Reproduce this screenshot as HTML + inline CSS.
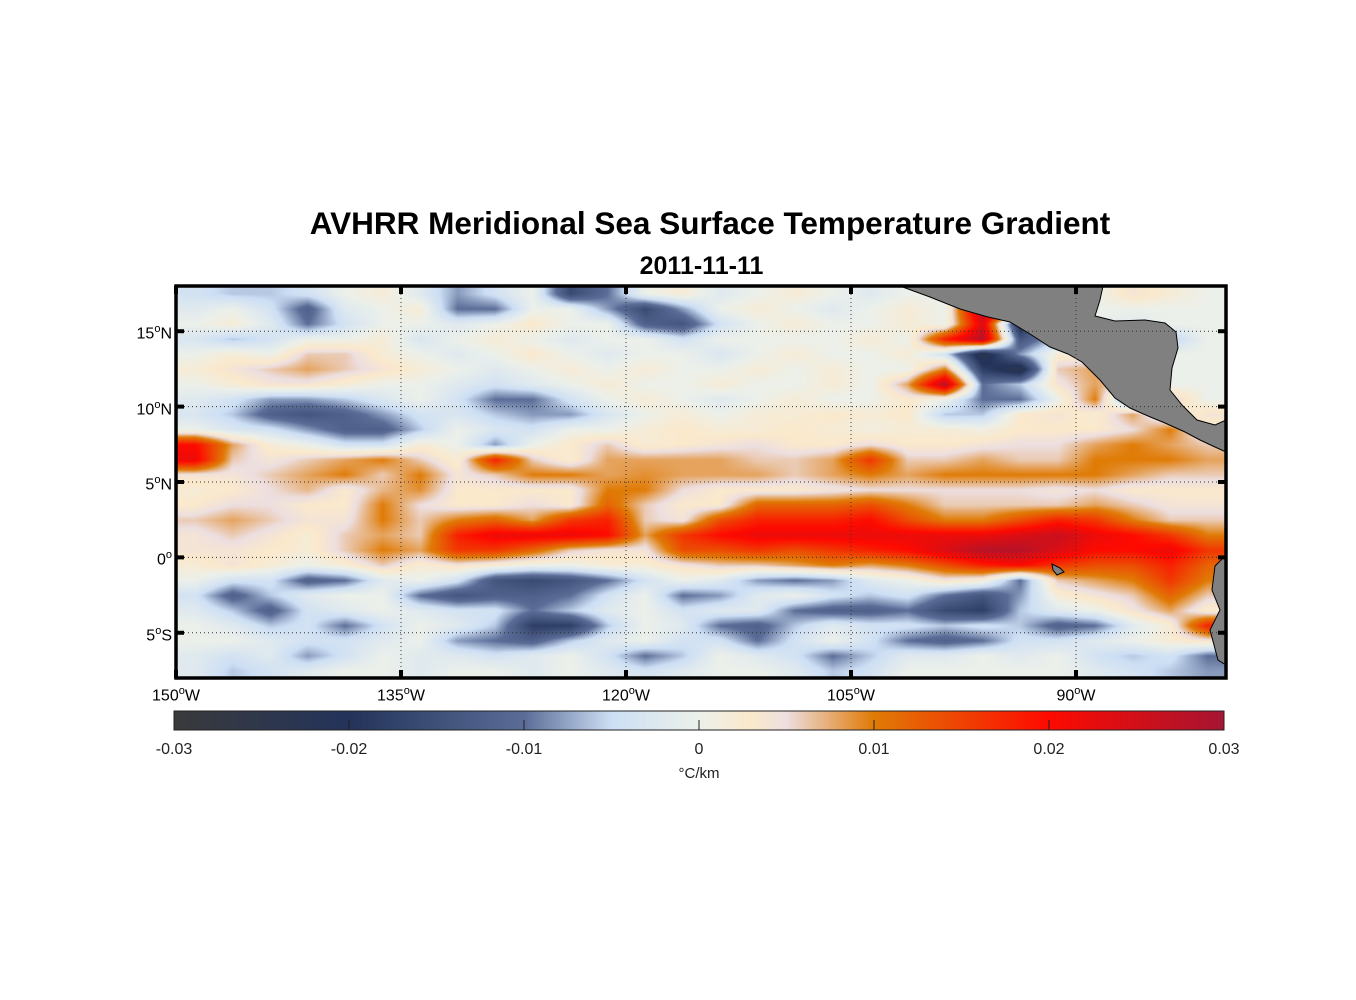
<!DOCTYPE html>
<html><head><meta charset="utf-8"><style>
body{margin:0;background:#fff;width:1356px;height:1000px;overflow:hidden;font-family:"Liberation Sans",Arial,sans-serif;}
#wrap{position:relative;width:1356px;height:1000px;}
.t{position:absolute;white-space:nowrap;color:#000;}
canvas{position:absolute;}
svg{position:absolute;left:0;top:0;}
</style></head><body><div id="wrap">
<div class="t" style="left:0;width:1420px;text-align:center;top:205px;font-size:31.5px;font-weight:bold;">AVHRR Meridional Sea Surface Temperature Gradient</div>
<div class="t" style="left:0;width:1403px;text-align:center;top:252px;font-size:25px;font-weight:bold;">2011-11-11</div>
<canvas id="map" width="1050" height="392" style="left:176px;top:286px"></canvas>
<canvas id="cbar" width="1050" height="19" style="left:174px;top:711px"></canvas>
<svg id="ov" width="1356" height="1000"></svg>
<div id="labels"></div>
</div>
<script>
const lonEdges=[-150,-80];
const latEdges=[18,-8];
const cbarTicks=[-0.03,-0.02,-0.01,0,0.01,0.02,0.03];
const cbarLabels=["-0.03","-0.02","-0.01","0","0.01","0.02","0.03"];
const lonTicks=[-150,-135,-120,-105,-90];
const lonLabels=["150","135","120","105","90"];
const latTicks=[15,10,5,0,-5];
const latLabels=["15","10","5","0","5"];
const latSuffix=["N","N","N","",'S'];
// gradient values (x0.001 °C/km), rows 17.5N..7.5S, cols 150W..80W step 2.5
const r0=[-4,-6,-6,-4,0,2,-2,-8,-4,0,-16,-10,0,2,-2,0,2,0,-2,0,0,0,0,0,0,4,2,0];
const r1=[-2,0,-4,-12,-2,0,2,-10,-10,0,0,-8,-16,-8,0,2,0,-2,0,2,0,28,24,0,0,0,0,0];
const r2=[0,2,-2,-10,-4,0,0,-2,0,3,0,0,-12,-14,-4,0,2,0,0,2,0,24,-22,0,0,-2,0,0];
const r3=[-3,-6,-4,0,0,2,-3,0,2,0,-2,0,0,-4,0,0,0,0,2,0,18,28,-14,-6,0,0,-6,0];
const r4=[0,2,0,6,6,2,0,-2,0,3,0,-2,0,0,-3,0,2,0,0,2,-4,-24,-8,2,2,0,0,0];
const r5=[2,4,6,8,6,4,2,0,-2,0,2,0,2,0,0,2,0,2,0,0,10,-18,-24,6,8,0,0,0];
const r6=[0,2,4,4,2,0,0,-2,-4,-2,0,2,0,0,2,0,0,2,0,8,28,-10,-6,4,8,4,0,0];
const r7=[-2,-4,-8,-8,-6,-3,0,-4,-10,-10,-4,0,2,0,-2,0,2,0,0,3,0,-10,-10,0,10,-12,6,0];
const r8=[-3,-6,-12,-14,-12,-8,-4,-3,-6,-8,-8,-3,0,2,0,2,2,3,2,3,-6,-6,3,4,2,8,0,4];
const r9=[0,-3,-4,-8,-12,-12,-6,0,-3,-4,0,0,2,3,2,2,3,2,1,2,2,1,3,3,3,5,10,2];
const r10=[20,8,2,0,-4,-4,2,0,-8,0,3,6,2,3,4,5,3,3,5,3,3,4,5,5,8,10,8,6];
const r11=[22,6,4,6,8,10,6,2,18,6,2,8,8,8,8,6,6,8,16,6,6,8,6,6,10,10,10,8];
const r12=[4,4,6,8,10,6,10,4,6,10,10,8,9,8,8,8,6,8,10,8,10,10,10,10,10,8,6,6];
const r13=[2,3,5,7,3,7,9,3,3,3,3,10,10,5,3,3,3,4,5,5,5,5,5,4,5,3,3,3];
const r14=[3,5,5,3,3,10,5,3,3,5,3,12,6,3,3,12,12,12,14,10,6,6,6,6,8,6,4,4];
const r15=[6,8,6,4,4,10,6,10,12,8,16,18,6,4,14,18,18,18,20,14,10,10,14,18,16,10,6,6];
const r16=[4,6,4,2,6,8,6,18,22,22,22,20,8,16,20,22,22,22,22,22,22,22,24,26,22,20,16,10];
const r17=[4,4,3,2,6,10,8,16,16,12,6,4,4,14,14,16,14,16,18,20,24,28,28,24,20,20,22,16];
const r18=[2,4,2,0,2,6,2,4,2,0,0,2,2,4,6,6,8,10,8,10,14,18,20,16,14,14,18,12];
const r19=[0,-4,-4,-12,-10,-2,0,-4,-14,-16,-14,-10,-4,0,-2,-8,-10,-8,-2,0,4,2,-10,6,8,10,16,10];
const r20=[-4,-12,-6,-2,0,0,-10,-14,-12,-12,-10,-4,0,-10,-8,-2,0,-4,-6,-4,-10,-14,-8,2,4,6,12,6];
const r21=[-2,-6,-12,-4,-2,0,-2,-4,-4,-10,-6,-2,0,-4,-2,-2,-10,-12,-12,-10,-16,-18,-6,-2,0,4,8,2];
const r22=[0,-2,-6,-4,-10,-4,0,-2,-6,-18,-18,-6,0,-2,-10,-12,-6,-2,-4,-4,-6,-4,-6,-12,-10,-2,2,18];
const r23=[0,0,-2,-4,-4,-2,0,-8,-10,-12,-6,-2,0,-4,-4,-10,-4,0,-4,-10,-12,-10,-4,-4,-2,0,2,4];
const r24=[-2,-4,-2,-8,-4,0,-2,-2,-4,-2,0,-4,-10,-6,0,-2,-4,-10,-6,-2,-2,0,-2,0,-4,-6,-4,-10];
const r25=[-2,-6,-4,-2,0,0,-2,0,0,-2,0,-2,-4,-2,0,0,-2,-6,-4,0,0,0,0,0,-2,-4,-6,-8];
const grid=[r0,r1,r2,r3,r4,r5,r6,r7,r8,r9,r10,r11,r12,r13,r14,r15,r16,r17,r18,r19,r20,r21,r22,r23,r24,r25];

const PX={l:176,t:286,w:1050,h:392};
const xOf=lon=>PX.l+(lon-lonEdges[0])/(lonEdges[1]-lonEdges[0])*PX.w;
const yOf=lat=>PX.t+(latEdges[0]-lat)/(latEdges[0]-latEdges[1])*PX.h;
const stops=[[-0.03,[58,58,60]],[-0.02,[35,51,90]],[-0.01,[91,109,151]],[-0.005,[205,223,245]],[0,[236,240,234]],[0.003,[251,233,204]],[0.005,[237,223,224]],[0.01,[224,123,6]],[0.02,[254,10,0]],[0.03,[165,21,50]]];
function cmap(v){if(v<=stops[0][0])return stops[0][1];for(let i=1;i<stops.length;i++){if(v<=stops[i][0]){const a=stops[i-1],b=stops[i],f=(v-a[0])/(b[0]-a[0]);return a[1].map((c,k)=>c+(b[1][k]-c)*f);}}return stops[stops.length-1][1];}

(function(){const c=document.getElementById('map'),ctx=c.getContext('2d'),img=ctx.createImageData(c.width,c.height);
const R=grid.length,C=grid[0].length;
for(let y=0;y<c.height;y++){const gy=Math.min(Math.max(y/c.height*R-0.5,0),R-1);const y0=Math.floor(gy),y1=Math.min(y0+1,R-1),fy=gy-y0;
for(let x=0;x<c.width;x++){const gx=Math.min(Math.max(x/c.width*C-0.5,0),C-1);const x0=Math.floor(gx),x1=Math.min(x0+1,C-1),fx=gx-x0;
const v=((grid[y0][x0]*(1-fx)+grid[y0][x1]*fx)*(1-fy)+(grid[y1][x0]*(1-fx)+grid[y1][x1]*fx)*fy)/1000;
const col=cmap(v),i=(y*c.width+x)*4;img.data[i]=col[0];img.data[i+1]=col[1];img.data[i+2]=col[2];img.data[i+3]=255;}}
ctx.putImageData(img,0,0);})();
(function(){const c=document.getElementById('cbar'),ctx=c.getContext('2d');for(let x=0;x<c.width;x++){const v=-0.03+0.06*x/(c.width-1);const col=cmap(v);ctx.fillStyle='rgb('+col.map(Math.round).join(',')+')';ctx.fillRect(x,0,1,c.height);}})();

const NS='http://www.w3.org/2000/svg',svg=document.getElementById('ov');
function mk(tag,at){const e=document.createElementNS(NS,tag);for(const k in at)e.setAttribute(k,at[k]);svg.appendChild(e);return e;}
let e=mk('polygon',{points:'900,286 1103,286 1100,300 1095,316 1115,321 1145,320 1165,323 1176,332 1178,348 1172,368 1170,390 1182,405 1197,420 1215,425 1226,420 1226,452 1215,447 1200,440 1185,432 1165,423 1148,416 1130,408 1115,398 1100,380 1082,362 1068,354 1050,347 1030,334 1010,322 988,317 960,309 930,297',fill:'#808080',stroke:'#000','stroke-width':1});

e=mk('polygon',{points:'1226,555 1215,566 1212,590 1220,610 1210,630 1218,660 1226,665',fill:'#808080',stroke:'#000','stroke-width':1});

e=mk('polygon',{points:'1052,564 1060,568 1064,572 1057,575 1053,570',fill:'#808080',stroke:'#000','stroke-width':1});

lonTicks.forEach((lon,i)=>{const x=xOf(lon);
 if(i>0){const g=mk('line',{x1:x,y1:PX.t,x2:x,y2:PX.t+PX.h,stroke:'#333','stroke-width':1,'stroke-dasharray':'1,3'});}
 mk('line',{x1:x,y1:PX.t,x2:x,y2:PX.t+8,stroke:'#000','stroke-width':4});mk('line',{x1:x,y1:PX.t+PX.h-8,x2:x,y2:PX.t+PX.h,stroke:'#000','stroke-width':4});
 const d=document.createElement('div');d.className='t';d.style.cssText='left:'+(x-40)+'px;width:80px;text-align:center;top:685px;font-size:16px;';
 d.innerHTML=lonLabels[i]+'<sup style="font-size:11px">o</sup>W';
 document.getElementById('labels').appendChild(d);});
latTicks.forEach((lat,i)=>{const y=yOf(lat);
 const g=mk('line',{x1:PX.l,y1:y,x2:PX.l+PX.w,y2:y,stroke:'#333','stroke-width':1,'stroke-dasharray':'1,3'});
 mk('line',{x1:PX.l,y1:y,x2:PX.l+8,y2:y,stroke:'#000','stroke-width':4});mk('line',{x1:PX.l+PX.w-8,y1:y,x2:PX.l+PX.w,y2:y,stroke:'#000','stroke-width':4});
 const d=document.createElement('div');d.className='t';d.style.cssText='left:72px;width:100px;text-align:right;top:'+(y-8)+'px;font-size:16px;';
 d.innerHTML=latLabels[i]+'<sup style="font-size:11px">o</sup>'+latSuffix[i];
 document.getElementById('labels').appendChild(d);});
e=mk('rect',{x:PX.l,y:PX.t,width:PX.w,height:PX.h,fill:'none',stroke:'#000','stroke-width':3.5});

e=mk('rect',{x:174,y:711,width:1050,height:19,fill:'none',stroke:'#222','stroke-width':1});

cbarTicks.forEach((v,i)=>{const x=174+(v+0.03)/0.06*1050;
 if(i>0&&i<cbarTicks.length-1)mk('line',{x1:x,y1:720,x2:x,y2:730,stroke:'#222','stroke-width':1});
 const d=document.createElement('div');d.className='t';d.style.cssText='left:'+(x-40)+'px;width:80px;text-align:center;top:741px;font-size:16px;color:#222;';
 d.textContent=cbarLabels[i];document.getElementById('labels').appendChild(d);});
const u=document.createElement('div');u.className='t';u.style.cssText='left:649px;width:100px;text-align:center;top:765px;font-size:15px;color:#222;';
u.textContent='°C/km';document.getElementById('labels').appendChild(u);
</script></body></html>
